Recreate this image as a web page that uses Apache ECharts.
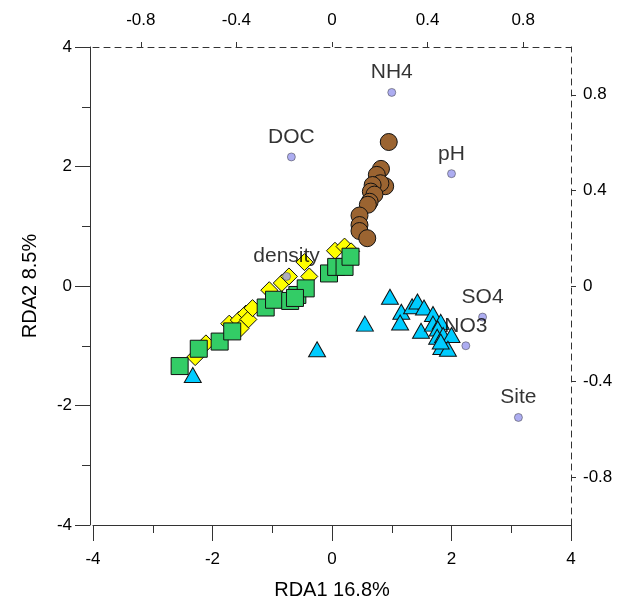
<!DOCTYPE html>
<html>
<head>
<meta charset="utf-8">
<script src="https://cdn.jsdelivr.net/npm/echarts@6/dist/echarts.min.js"></script>
<style>
html, body { margin: 0; padding: 0; background: #fff; }
#main { width: 630px; height: 603px; }
</style>
</head>
<body>
<div id="main"></div>
<script>
// sample scores (RDA1, RDA2) - lower/left axes
var brownCircles = [
	[0.95, 2.41], [0.82, 1.96], [0.75, 1.86], [0.89, 1.67], [0.81, 1.72],
	[0.68, 1.69], [0.65, 1.58], [0.71, 1.53], [0.63, 1.41], [0.60, 1.36],
	[0.46, 1.18], [0.46, 1.02], [0.46, 0.92], [0.59, 0.80]
];
var yellowDiamonds = [
	[-2.29, -1.19], [-2.11, -0.96], [-1.72, -0.63], [-1.56, -0.57], [-1.44, -0.46],
	[-1.40, -0.56], [-1.33, -0.37], [-1.53, -0.71], [-1.05, -0.07], [-0.84, 0.05],
	[-0.72, 0.16], [-0.46, 0.40], [-0.38, 0.16], [0.05, 0.59], [0.21, 0.66],
	[0.32, 0.58]
];
var greenSquares = [
	[-2.55, -1.34], [-2.23, -1.05], [-1.88, -0.93], [-1.67, -0.76], [-1.11, -0.36],
	[-0.97, -0.23], [-0.70, -0.25], [-0.58, -0.15], [-0.44, -0.04], [-0.62, -0.20],
	[-0.05, 0.21], [0.07, 0.32], [0.21, 0.32], [0.31, 0.49]
];
var blueTriangles = [
	[-2.33, -1.49], [-0.25, -1.06], [0.55, -0.63], [0.97, -0.18], [1.16, -0.43],
	[1.14, -0.61], [1.34, -0.34], [1.43, -0.26], [1.54, -0.36], [1.49, -0.75],
	[1.69, -0.47], [1.69, -0.63], [1.82, -0.60], [1.77, -0.71], [1.76, -0.85],
	[1.86, -0.82], [2.00, -0.82], [1.83, -1.02], [1.94, -1.05], [1.82, -0.93]
];
// environmental variables - upper/right axes
var envNames = ['NH4', 'DOC', 'pH', 'density', 'SO4', 'NO3', 'Site'];
var envX = [0.25, -0.17, 0.50, -0.19, 0.63, 0.56, 0.78];
var envY = [0.81, 0.54, 0.47, 0.04, -0.13, -0.25, -0.55];
var envTicks = [-0.8, -0.4, 0, 0.4, 0.8];

var font = 'Liberation Sans, Arial, sans-serif';
var envData = [];
for (var i = 0; i < envNames.length; i++) {
	envData.push({name: envNames[i], value: [envX[i], envY[i]]});
}

function sampleSeries(data, symbol, size, color) {
	return {
		type: 'scatter',
		xAxisIndex: 0,
		yAxisIndex: 0,
		symbol: symbol,
		symbolSize: size,
		data: data,
		itemStyle: {color: color, borderColor: '#111', borderWidth: 1, opacity: 1},
		emphasis: {disabled: true}
	};
}

var myChart = echarts.init(document.getElementById('main'));
var option = {
	animation: false,
	textStyle: {fontFamily: font, color: '#000'},
	grid: {left: 93, right: 59, top: 47, bottom: 78, outerBoundsMode: 'none', containLabel: false},
	xAxis: [{
		type: 'value',
		position: 'bottom',
		min: -4,
		max: 4,
		interval: 2,
		name: 'RDA1 16.8%',
		nameLocation: 'middle',
		nameGap: 55,
		nameTextStyle: {fontSize: 20, color: '#000', fontFamily: font},
		axisLine: {onZero: false, lineStyle: {color: '#333', width: 1}},
		axisTick: {show: true, inside: false, length: 16, lineStyle: {color: '#333'}},
		minorTick: {show: true, splitNumber: 2, length: 8, lineStyle: {color: '#333'}},
		axisLabel: {fontSize: 17, color: '#000', margin: 26, fontFamily: font},
		splitLine: {show: false}
	}, {
		type: 'value',
		position: 'top',
		min: -1,
		max: 1,
		axisLine: {onZero: false, lineStyle: {color: '#333', width: 1, type: [6, 5]}},
		axisTick: {show: true, inside: false, length: 5, customValues: envTicks, lineStyle: {color: '#333'}},
		axisLabel: {fontSize: 17, color: '#000', margin: 18, customValues: envTicks, fontFamily: font},
		splitLine: {show: false}
	}],
	yAxis: [{
		type: 'value',
		position: 'left',
		min: -4,
		max: 4,
		interval: 2,
		offset: 3,
		name: 'RDA2 8.5%',
		nameLocation: 'middle',
		nameGap: 50,
		nameRotate: 90,
		nameTextStyle: {fontSize: 20, color: '#000', fontFamily: font},
		axisLine: {onZero: false, lineStyle: {color: '#333', width: 1}},
		axisTick: {show: true, inside: false, length: 15, lineStyle: {color: '#333'}},
		minorTick: {show: true, splitNumber: 2, length: 8, lineStyle: {color: '#333'}},
		axisLabel: {fontSize: 17, color: '#000', margin: 18, fontFamily: font},
		splitLine: {show: false}
	}, {
		type: 'value',
		position: 'right',
		min: -1,
		max: 1,
		axisLine: {onZero: false, lineStyle: {color: '#333', width: 1, type: [6, 5]}},
		axisTick: {show: true, inside: false, length: 5, customValues: envTicks, lineStyle: {color: '#333'}},
		axisLabel: {fontSize: 17, color: '#000', margin: 12, customValues: envTicks, fontFamily: font},
		splitLine: {show: false}
	}],
	series: [
		sampleSeries(yellowDiamonds, 'diamond', [17, 17], '#ffff00'),
		sampleSeries(greenSquares, 'rect', [17, 17], '#33cc66'),
		sampleSeries(brownCircles, 'circle', 17, '#9b6431'),
		sampleSeries(blueTriangles, 'triangle', [17, 15], '#00ccff'),
		{
			type: 'scatter',
			xAxisIndex: 1,
			yAxisIndex: 1,
			symbol: 'circle',
			symbolSize: 8,
			data: envData,
			itemStyle: {color: '#9999ee', borderColor: '#333', borderWidth: 0.6},
			label: {
				show: true,
				position: 'top',
				distance: 5,
				formatter: '{b}',
				fontSize: 21,
				color: '#000',
				fontFamily: font
			},
			emphasis: {disabled: true}
		}
	]
};
myChart.setOption(option);
</script>
</body>
</html>
